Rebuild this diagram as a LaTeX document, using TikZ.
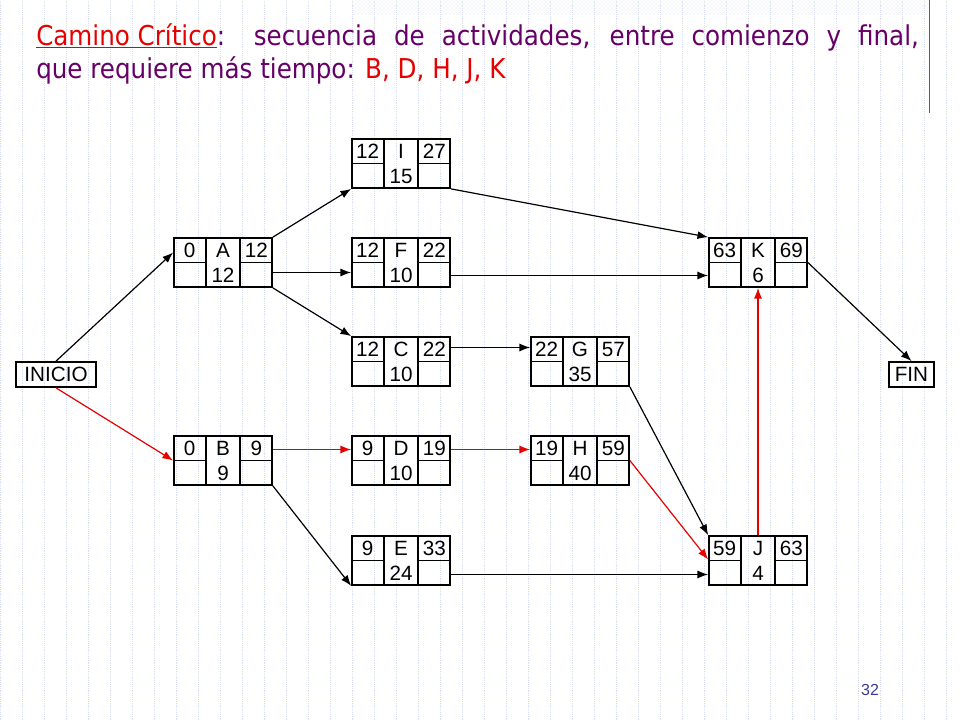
\documentclass[tikz,border=0pt]{standalone}
\usepackage{fontspec}
\setmainfont{Liberation Sans}
\newfontfamily\titlefont{DejaVu Sans Condensed}
\usetikzlibrary{arrows.meta,patterns,calc}
\definecolor{tpurple}{RGB}{102,0,102}
\definecolor{tred}{RGB}{230,0,0}
\definecolor{gridc}{RGB}{215,222,242}
\definecolor{pnum}{RGB}{60,60,150}
\tikzset{
  box/.style={draw,line width=1.3pt,minimum width=73.5pt,minimum height=36.75pt,inner sep=0pt},
  lbl/.style={font=\fontsize{15.5}{15.5}\selectfont,inner sep=0pt},
  conn/.style={-{Latex[length=8pt,width=6pt]},line width=0.9pt},
  crit/.style={conn,draw=tred,-{Latex[length=8pt,width=6pt,fill=tred]}},
}
\newcommand\actbox[7]{%
  \node[box] (#1) at (#2+49,#3+24.5) {};
  \draw[line width=1pt] ($(#1.north west)+(33,0)$) -- ($(#1.south west)+(33,0)$);
  \draw[line width=1pt] ($(#1.north east)-(33,0)$) -- ($(#1.south east)-(33,0)$);
  \draw[line width=1pt] ($(#1.west)$) -- ++(33,0);
  \draw[line width=1pt] ($(#1.east)$) -- ++(-33,0);
  \node[lbl] at ($(#1.north west)+(16.5,13)$) {#4};
  \node[lbl] at ($(#1.north)+(0,13)$) {#5};
  \node[lbl] at ($(#1.north east)+(-16.5,13)$) {#6};
  \node[lbl] at ($(#1.north)+(0,38)$) {#7};
}
\begin{document}
\begin{tikzpicture}[x=0.75pt,y=-0.75pt]
\useasboundingbox (0,0) rectangle (960,720);
\fill[white] (0,0) rectangle (960,720);
\draw[gridc,densely dotted,line width=0.4pt] (0,0) grid[step=22] (960,720);
\fill[pattern=crosshatch dots,pattern color=gridc] (352,0) rectangle (930,15);
\draw[blue!70,line width=0.6pt] (929,0) -- (929,113);
\node[anchor=north west,text width=662pt,align=justify,inner sep=0pt,font=\titlefont\fontsize{20.5}{25}\selectfont,text=tpurple] (title) at (36,23)
 {\hyphenpenalty=10000 \textcolor{tred}{\underline{Camino Crítico}}: secuencia de actividades, entre comienzo y final,\linebreak que requiere más tiempo: \textcolor{tred}{B, D, H, J, K}};
\node[font=\fontsize{12}{12}\selectfont,text=pnum] (pg) at (870,690) {32};

\actbox{I}{352}{139}{12}{I}{27}{15}
\actbox{A}{174}{238}{0}{A}{12}{12}
\actbox{F}{352}{238}{12}{F}{22}{10}
\actbox{K}{709}{238}{63}{K}{69}{6}
\actbox{C}{352}{337}{12}{C}{22}{10}
\actbox{G}{531}{337}{22}{G}{57}{35}
\actbox{B}{174}{436}{0}{B}{9}{9}
\actbox{D}{352}{436}{9}{D}{19}{10}
\actbox{H}{531}{436}{19}{H}{59}{40}
\actbox{E}{352}{536}{9}{E}{33}{24}
\actbox{J}{709}{536}{59}{J}{63}{4}
\node[draw,line width=1.3pt,minimum width=60pt,minimum height=18.75pt,lbl] (ini) at (56,374.5) {INICIO};
\node[draw,line width=1.3pt,minimum width=33.75pt,minimum height=18.75pt,lbl] (fin) at (911.5,374.5) {FIN};

\draw[conn] (ini.north) -- ($(A.west)+(0,-10)$);
\draw[crit] (ini.south) -- ($(B.west)+(0,0)$);
\draw[conn] (A.north east) -- (I.south west);
\draw[conn] ($(A.east)+(0,10)$) -- ($(F.west)+(0,10)$);
\draw[conn] (A.south east) -- (C.north west);
\draw[crit] ($(B.east)+(0,-11)$) -- ($(D.west)+(0,-11)$);
\draw[conn] (B.south east) -- (E.south west);
\draw[conn] ($(C.east)+(0,-14)$) -- ($(G.west)+(0,-14)$);
\draw[crit] ($(D.east)+(0,-11)$) -- ($(H.west)+(0,-11)$);
\draw[conn] (G.south east) -- (J.north west);
\draw[crit] ($(H.east)+(0,0)$) -- ($(J.west)+(0,-1)$);
\draw[conn] ($(E.east)+(0,14)$) -- ($(J.west)+(0,14)$);
\draw[conn] (I.south east) -- (K.north west);
\draw[conn] ($(F.east)+(0,13)$) -- ($(K.west)+(0,13)$);
\draw[crit] (J.north) -- (K.south);
\draw[conn] (K.east) -- (fin.north);
\end{tikzpicture}
\end{document}
